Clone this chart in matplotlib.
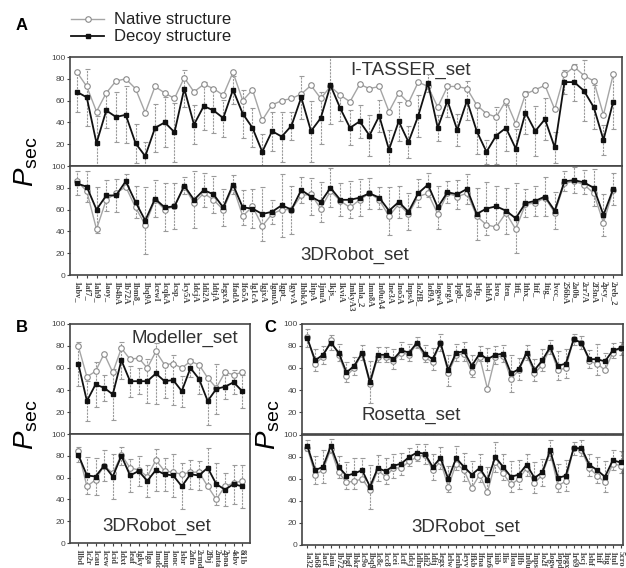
import matplotlib
matplotlib.use("Agg")
import matplotlib.pyplot as plt
import numpy as np

plt.rcParams['font.family'] = ['Liberation Sans', 'DejaVu Sans']
plt.rcParams['mathtext.fontset'] = 'custom'
plt.rcParams['mathtext.rm'] = 'Liberation Sans'
plt.rcParams['mathtext.it'] = 'Liberation Sans:italic'

# ---------------- data ----------------
itasser_names = ['1abv_', '1af7_', '1ah9_', '1aoy_', '1b4bA', '1b72A', '1bm8_', '1bq9A', '1cewI',
                 '1cqkA', '1csp_', '1cy5A', '1dcjA', '1di2A', '1dtjA', '1egxA', '1fadA', '1fo5A',
                 '1g1cA', '1gjxA', '1gnuA', '1gpt_', '1gyvA', '1hbkA', '1itpA', '1jnuA', '1kjs_',
                 '1kviA', '1mkyA3', '1mla_2', '1mn8A', '1n0uA4', '1ne3A', '1no5A', '1npsA', '1o2fB_',
                 '1of9A', '1ogwA', '1orgA', '1pgb_', '1r69_', '1sfp_', '1shfA', '1sro_', '1ten_',
                 '1tfi_', '1thx_', '1tif_', '1tig_', '1vcc_', '256bA', '2a0b_', '2cr7A', '2f3nA',
                 '2pcy_', '2reb_2']
itasser_native = [86, 73, 50, 67, 78, 80, 71, 49, 73, 67, 62, 81, 68, 75, 71, 65, 86, 60,
                  70, 42, 56, 60, 62,
                  66, 74, 62, 73, 65, 59, 75, 71, 73, 50, 67, 58, 77,
                  73, 54, 73, 73, 71, 56, 48, 45, 60, 39, 66, 70, 74, 52, 84, 91, 83, 78, 47, 84]
itasser_decoy = [68, 63, 21, 51, 45, 47, 21, 9, 35, 40, 31, 71, 38, 55, 51, 44, 70, 48,
                 35, 13, 32, 27, 37,
                 63, 32, 44, 74, 53, 35, 41, 28, 46, 15, 41, 22, 46, 76, 35, 60, 33, 60, 32,
                 13, 28, 35, 16, 49, 32, 43, 17, 77, 77, 69, 54, 24, 59]
itasser_err = [18, 26, 25, 16, 23, 26, 18, 13, 22, 23, 27, 17, 18, 22, 21, 17, 13, 22,
               18, 16, 18, 23, 13, 20, 28, 24, 35, 12, 16, 15, 19, 15, 18, 18, 15, 19, 8,
               12, 15, 15, 18, 21, 11, 26, 21, 18, 20, 23, 19, 14, 11, 17, 28, 20, 14, 25]
robotA_native = [86, 77, 42, 69, 75, 81, 62, 46, 69, 60, 63, 81, 66, 75, 69, 60, 81, 54,
                 63, 45, 56, 60, 60, 73, 74,
                 61, 77, 68, 62, 69, 75, 69, 54, 65, 56, 72, 75, 56, 75, 72, 75, 54, 46,
                 44, 57, 42, 65, 66, 71, 57, 84, 86, 83, 75, 48, 78]
robotA_decoy = [84, 81, 60, 73, 73, 86, 67, 50, 70, 62, 63, 82, 69, 78, 74, 62, 83, 62,
                61, 56, 58, 64, 60, 78, 72,
                67, 80, 69, 69, 71, 75, 71, 59, 67, 58, 75, 83, 62, 76, 74, 79, 56, 61,
                63, 59, 52, 66, 68, 72, 59, 86, 87, 85, 80, 55, 79]
robotA_err = [11, 14, 21, 14, 15, 7, 15, 31, 17, 22, 21, 8, 26, 16, 17, 17, 9, 16, 18, 25, 11, 29, 22,
              12, 17, 18, 18, 15, 17, 17, 14, 10, 22, 15, 17, 13, 11, 20, 10, 13, 14, 24, 24,
              19, 21, 32, 13, 14, 18, 17, 9, 12, 11, 17, 19, 15]

modeller_names = ['1lbd', '1c2r', '1cau', '1cew', '1cid', '1dxt', '1eaf', '1gky', '1lga', '1mdc',
                  '1mup', '1onc', '1sbr', '2afn', '2cmd', '2fbj', '2mta', '2pna', '4sbv', '8i1b']
modeller_native = [80, 52, 57, 73, 56, 78, 68, 69, 60, 75, 63, 64, 60, 66, 63, 51, 42, 56, 54, 56]
modeller_decoy = [64, 30, 45, 42, 36, 67, 48, 48, 48, 55, 48, 49, 39, 60, 50, 30, 41, 43, 47, 39]
modeller_err = [20, 18, 20, 12, 23, 17, 14, 12, 20, 28, 15, 23, 14, 8, 14, 22, 23, 11, 11, 15]
robotB_native = [84, 52, 58, 71, 64, 81, 69, 67, 61, 76, 66, 65, 63, 65, 65, 52, 40, 52, 55, 57]
robotB_decoy = [81, 62, 61, 71, 61, 80, 62, 66, 57, 67, 63, 62, 52, 63, 62, 69, 54, 49, 54, 52]
robotB_err = [7, 17, 17, 14, 21, 8, 15, 14, 15, 19, 15, 20, 21, 13, 13, 18, 19, 15, 18, 20]

rosetta_names = ['1a32', '1a68', '1acf', '1aiu', '1b72', '1bgf', '1bkr', '1c9o', '1bq9', '1c8c',
                 '1cc8', '1cei', '1ctf', '1dcj', '1dhn', '1di2', '1dtj', '1egx', '1elw', '1enh',
                 '1eyv', '1fkb', '1fna', '1hz6', '1iib', '1lis', '1lou', '1lfb', '1n0u', '1nps',
                 '1o2f', '1ogw', '1opd', '1pgx', '1r69', '1scj', '1shf', '1tif', '1tig', '1tul',
                 '5cro']
rosetta_native = [88, 64, 70, 85, 72, 53, 60, 73, 45, 70, 70, 66, 74, 72, 82, 70, 65, 83, 55, 72,
                  73, 56, 70, 41, 70, 71, 50, 58, 72, 55, 63, 78, 58, 60, 86, 83, 66, 64, 58, 74, 78]
rosetta_decoy = [87, 67, 72, 83, 74, 56, 62, 74, 47, 72, 72, 68, 76, 74, 83, 73, 68, 83, 58, 74,
                 75, 62, 73, 68, 72, 73, 55, 59, 74, 58, 67, 79, 62, 64, 86, 83, 68, 68, 66, 76, 78]
rosetta_err = [8, 10, 8, 7, 8, 9, 8, 7, 19, 7, 7, 9, 8, 8, 5, 8, 10, 8, 14, 8,
               9, 10, 7, 10, 8, 8, 17, 10, 7, 10, 10, 6, 13, 13, 5, 6, 8, 14, 8, 7, 6]
robotC_native = [88, 64, 68, 87, 66, 57, 58, 60, 50, 68, 62, 70, 70, 76, 80, 82, 68, 76, 53, 74,
                 68, 52, 64, 48, 75, 65, 55, 60, 70, 56, 64, 84, 54, 58, 88, 86, 70, 63, 57, 74, 72]
robotC_decoy = [90, 68, 71, 90, 71, 63, 65, 68, 53, 70, 67, 72, 74, 80, 84, 83, 71, 79, 60, 79,
                71, 64, 70, 59, 80, 71, 62, 64, 73, 61, 66, 86, 61, 63, 88, 88, 73, 68, 62, 77, 75]
robotC_err = [5, 13, 15, 6, 10, 12, 14, 11, 20, 12, 12, 11, 10, 8, 8, 9, 12, 10, 12, 11,
              13, 12, 13, 12, 14, 12, 14, 13, 10, 14, 12, 9, 13, 14, 6, 7, 10, 12, 14, 9, 10]


def draw(ax, names, native, decoy, err, xlim, title, tx, ty, bottom, lab_size=4.3):
    x = np.arange(len(native))
    eb = ax.errorbar(x, decoy, yerr=err, fmt='none', ecolor='#9a9a9a', elinewidth=0.8,
                     capsize=1.8, capthick=0.8, zorder=1)
    eb[2][0].set_linestyle((0, (2, 1)))
    for c in eb[1]:
        c.set_color('#333333')
    nat, = ax.plot(x, native, '-o', color='#a5a5a5', mfc='white', mec='#8a8a8a',
                   ms=4, mew=0.8, lw=1, zorder=3)
    dec, = ax.plot(x, decoy, '-s', color='#111111', ms=3.3, lw=1.3, zorder=4)
    ax.set_xlim(*xlim)
    ax.set_ylim(0, 100)
    ax.set_xticks(x)
    if bottom:
        ax.set_xticklabels(names, rotation=270, fontsize=lab_size, family='Liberation Serif',
                           fontweight='bold', color='#222222')
        ax.set_yticks([0, 20, 40, 60, 80, 100])
    else:
        ax.set_xticklabels([])
        ax.set_yticks([20, 40, 60, 80, 100])
    ax.tick_params(axis='both', direction='out', length=2.5, width=0.8, pad=1,
                   colors='#444444', labelsize=6)
    ax.tick_params(axis='x', pad=1.5)
    for s in ax.spines.values():
        s.set_linewidth(1.2)
        s.set_color('#444444')
    ax.text(tx, ty, title, transform=ax.transAxes, ha='center', va='center',
            fontsize=13.5, color='#333333')
    return nat, dec


fig = plt.figure(figsize=(6.26, 5.68), dpi=100)

axA1 = fig.add_axes([0.1118, 0.7077, 0.8818, 0.1919])
axA2 = fig.add_axes([0.1118, 0.5158, 0.8818, 0.1919])
axB1 = fig.add_axes([0.1118, 0.2359, 0.2875, 0.1937])
axB2 = fig.add_axes([0.1118, 0.0440, 0.2875, 0.1919])
axC1 = fig.add_axes([0.4824, 0.2359, 0.5128, 0.1937])
axC2 = fig.add_axes([0.4824, 0.0405, 0.5128, 0.1937])

nat, dec = draw(axA1, itasser_names, itasser_native, itasser_decoy, itasser_err,
                (-0.72, 55.9), 'I-TASSER_set', 0.616, 0.88, False)
draw(axA2, itasser_names, robotA_native, robotA_decoy, robotA_err,
     (-0.72, 55.9), '3DRobot_set', 0.516, 0.18, True)
draw(axB1, modeller_names, modeller_native, modeller_decoy, modeller_err,
     (-0.96, 19.9), 'Modeller_set', 0.64, 0.87, False)
draw(axB2, modeller_names, robotB_native, robotB_decoy, robotB_err,
     (-0.96, 19.9), '3DRobot_set', 0.48, 0.15, True, lab_size=3.8)
draw(axC1, rosetta_names, rosetta_native, rosetta_decoy, rosetta_err,
     (-0.68, 40.3), 'Rosetta_set', 0.34, 0.17, False)
draw(axC2, rosetta_names, robotC_native, robotC_decoy, robotC_err,
     (-0.68, 40.3), '3DRobot_set', 0.51, 0.16, True, lab_size=3.6)

fig.legend([nat, dec], ['Native structure', 'Decoy structure'], loc='upper left',
           bbox_to_anchor=(0.103, 0.99), borderaxespad=0, frameon=False, fontsize=12,
           handlelength=2.0, handletextpad=0.6, labelspacing=0.12, labelcolor='#222222')

# panel letters
fig.text(22 / 626, 1 - 25 / 568, 'A', fontsize=12, fontweight='bold', ha='center', va='center')
fig.text(22 / 626, 1 - 328 / 568, 'B', fontsize=12, fontweight='bold', ha='center', va='center')
fig.text(270 / 626, 1 - 328 / 568, 'C', fontsize=12, fontweight='bold', ha='center', va='center')

# y labels
ylab = r'$P_{\mathrm{sec}}$'
fig.text(26 / 626, 1 - 162 / 568, ylab, fontsize=20, rotation=90, ha='center', va='center')
fig.text(26 / 626, 1 - 425 / 568, ylab, fontsize=20, rotation=90, ha='center', va='center')
fig.text(268 / 626, 1 - 425 / 568, ylab, fontsize=20, rotation=90, ha='center', va='center')

fig.savefig('out.png', dpi=100)
